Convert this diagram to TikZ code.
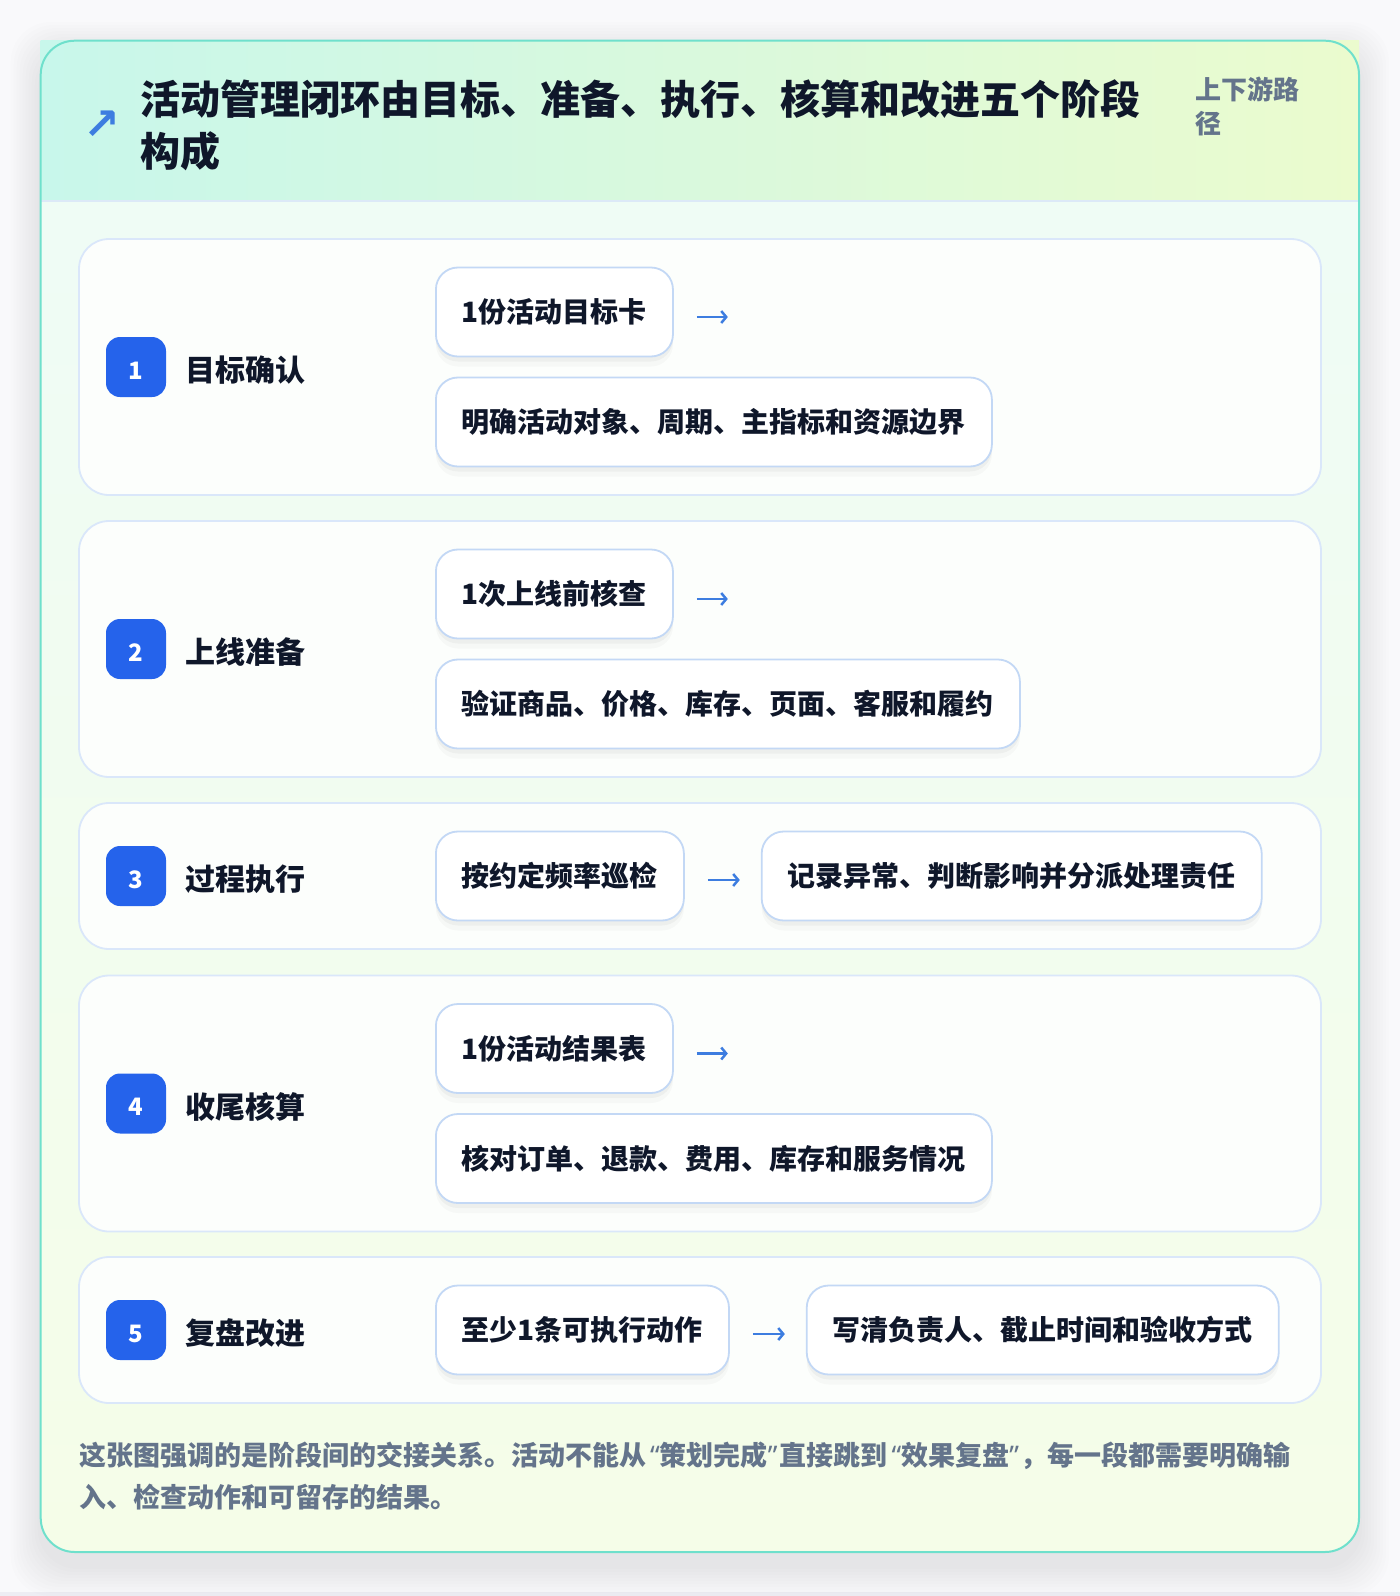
\documentclass[tikz,border=0pt]{standalone}
\usepackage{fontspec}
\setmainfont{Noto Sans CJK SC}
\newfontfamily\symfont{DejaVu Sans}
\newfontfamily\latinfont{Noto Sans}
\usetikzlibrary{positioning,arrows.meta,shadows}

\definecolor{pagebg}{HTML}{F9F9FB}
\definecolor{pageedge}{HTML}{EDEDF3}
\definecolor{cardline}{HTML}{6FE0CC}
\definecolor{headl}{HTML}{C8F7EB}
\definecolor{headr}{HTML}{EBFBCE}
\definecolor{headline}{HTML}{DCE9F7}
\definecolor{bodytop}{HTML}{EEFCF7}
\definecolor{bodybot}{HTML}{F5FDE8}
\definecolor{rowline}{HTML}{DAE7FA}
\definecolor{rowfill}{HTML}{FCFEFC}
\definecolor{boxline}{HTML}{C3D8F5}
\definecolor{badgeblue}{HTML}{2563EB}
\definecolor{flowblue}{HTML}{3D7DE0}
\definecolor{ink}{HTML}{0F172A}
\definecolor{muted}{HTML}{64748B}

\newcommand{\openq}{\kern4pt{\latinfont “}}
\newcommand{\closeq}{{\latinfont ”}\kern2pt}
\newcommand{\stagenum}[1]{\smash{\raisebox{-12pt}{#1}}}

\tikzset{
  rowcard/.style={draw=rowline, line width=1.8pt, fill=rowfill, rounded corners=30pt,
    minimum width=1242pt, inner sep=0pt},
  badge/.style={fill=badgeblue, rounded corners=14pt, minimum size=60pt, inner sep=0pt,
    text=white, font=\fontsize{24}{24}\selectfont\bfseries},
  stagelabel/.style={anchor=west, inner sep=0pt, text=ink,
    font=\fontsize{30}{30}\selectfont\bfseries},
  stepbox/.style={anchor=west, draw=boxline, line width=1.8pt, fill=white,
    rounded corners=22pt, minimum height=89pt, inner xsep=26pt, inner ysep=0pt,
    text=ink, font=\fontsize{28}{28}\selectfont\bfseries,
    drop shadow={shadow xshift=0pt, shadow yshift=-10pt, fill=black, opacity=0.025},
    drop shadow={shadow xshift=0pt, shadow yshift=-5pt, fill=black, opacity=0.035}},
  flow/.style={-{Straight Barb[length=5pt, width=12pt]}, line width=2.5pt, draw=flowblue},
}

\begin{document}
\begin{tikzpicture}[x=1pt, y=-1pt]
  \useasboundingbox (0,0) rectangle (1400,1596);
  \fill[pagebg] (0,0) rectangle (1400,1596);
  \fill[pageedge] (0,1592) rectangle (1400,1596);

  % outer card with a soft shadow
  \foreach \d in {3,6,...,30}
    \fill[black, fill opacity=0.008, rounded corners=40pt]
      (40.7-\d,52-\d) rectangle (1359+\d,1566+\d);
  \fill[top color=bodytop, bottom color=bodybot, rounded corners=34pt]
    (40.7,40.7) rectangle (1359,1552);
  \fill[left color=headl, right color=headr] (40.7,40.7) rectangle (1359,201);
  \draw[headline, line width=1.5pt] (40.7,201) -- (1359,201);
  \draw[cardline, line width=2pt, rounded corners=34pt] (40.7,40.7) rectangle (1359,1552);

  % header
  \node[text=flowblue, inner sep=0pt, font=\symfont\bfseries\fontsize{44}{44}\selectfont] (icon) at (102,125) {↗};
  \node[anchor=west, inner sep=0pt, align=left, text=ink,
    font=\fontsize{40}{52}\selectfont\bfseries] (title) at (140,125)
    {活动管理闭环由目标、准备、执行、核算和改进五个阶段\\构成};
  \node[anchor=west, inner sep=0pt, align=left, text=muted,
    font=\fontsize{26}{34}\selectfont\bfseries] (side) at (1195,106.5) {上下游路\\径};

  % stage 1
  \node[rowcard, minimum height=256pt] (row1) at (700,367) {};
  \node[badge] (n1) at (136,367) {\stagenum{1}};
  \node[stagelabel] (s1) at (185,370) {目标确认};
  \node[stepbox] (a1) at (435,312) {1份活动目标卡};
  \node[stepbox] (b1) at (435,422) {明确活动对象、周期、主指标和资源边界};
  \coordinate (a1o) at ([shift={(23,5)}]a1.east);
  \coordinate (a1e) at ([shift={(54,5)}]a1.east);
  \draw[flow] (a1o) -- (a1e);

  % stage 2
  \node[rowcard, minimum height=256pt] (row2) at (700,649) {};
  \node[badge] (n2) at (136,649) {\stagenum{2}};
  \node[stagelabel] (s2) at (185,652) {上线准备};
  \node[stepbox] (a2) at (435,594) {1次上线前核查};
  \node[stepbox] (b2) at (435,704) {验证商品、价格、库存、页面、客服和履约};
  \coordinate (a2o) at ([shift={(23,5)}]a2.east);
  \coordinate (a2e) at ([shift={(54,5)}]a2.east);
  \draw[flow] (a2o) -- (a2e);

  % stage 3
  \node[rowcard, minimum height=146pt] (row3) at (700,876) {};
  \node[badge] (n3) at (136,876) {\stagenum{3}};
  \node[stagelabel] (s3) at (185,879) {过程执行};
  \node[stepbox] (a3) at (435,876) {按约定频率巡检};
  \node[stepbox, right=76pt of a3] (b3) {记录异常、判断影响并分派处理责任};
  \draw[flow, shorten <=23pt, shorten >=21pt] ([yshift=-4pt]a3.east) -- ([yshift=-4pt]b3.west);

  % stage 4
  \node[rowcard, minimum height=256pt] (row4) at (700,1103.5) {};
  \node[badge] (n4) at (136,1103.5) {\stagenum{4}};
  \node[stagelabel] (s4) at (185,1106.5) {收尾核算};
  \node[stepbox] (a4) at (435,1048.5) {1份活动结果表};
  \node[stepbox] (b4) at (435,1158.5) {核对订单、退款、费用、库存和服务情况};
  \coordinate (a4o) at ([shift={(23,5)}]a4.east);
  \coordinate (a4e) at ([shift={(54,5)}]a4.east);
  \draw[flow] (a4o) -- (a4e);

  % stage 5
  \node[rowcard, minimum height=146pt] (row5) at (700,1330) {};
  \node[badge] (n5) at (136,1330) {\stagenum{5}};
  \node[stagelabel] (s5) at (185,1333) {复盘改进};
  \node[stepbox] (a5) at (435,1330) {至少1条可执行动作};
  \node[stepbox, right=76pt of a5] (b5) {写清负责人、截止时间和验收方式};
  \draw[flow, shorten <=23pt, shorten >=21pt] ([yshift=-4pt]a5.east) -- ([yshift=-4pt]b5.west);

  % footer note
  \node[anchor=west, inner sep=0pt, align=left, text=muted,
    font=\fontsize{27}{42}\selectfont\bfseries] (note) at (79,1476)
    {这张图强调的是阶段间的交接关系。活动不能从\openq 策划完成\closeq 直接跳到\openq 效果复盘\closeq ，每一段都需要明确输\\入、检查动作和可留存的结果。};
\end{tikzpicture}
\end{document}
